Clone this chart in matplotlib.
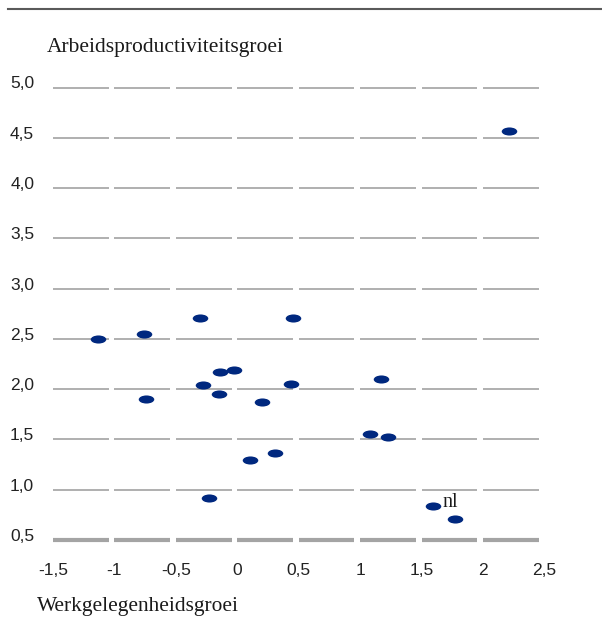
import numpy as np
import matplotlib
matplotlib.use("Agg")
from matplotlib import pyplot as plt
from matplotlib.path import Path
import matplotlib.transforms as mtransforms

# data
werkgelegenheid = [2.21, -1.13, -0.76, -0.30, 0.45, -0.74, -0.28, -0.14, -0.03, -0.15,
                   0.20, 0.44, 1.17, 1.08, 1.23, 0.10, 0.31, -0.23, 1.59, 1.77]
productiviteit = [4.57, 2.50, 2.55, 2.71, 2.71, 1.90, 2.04, 2.17, 2.19, 1.95,
                  1.87, 2.05, 2.10, 1.55, 1.52, 1.30, 1.37, 0.92, 0.84, 0.71]
labels = [''] * 18 + ['nl', '']

x_ticks = [-1.5, -1, -0.5, 0, 0.5, 1, 1.5, 2, 2.5]
x_ticklabels = ['-1,5', '-1', '-0,5', '0', '0,5', '1', '1,5', '2', '2,5']
y_ticks = [0.5, 1.0, 1.5, 2.0, 2.5, 3.0, 3.5, 4.0, 4.5, 5.0]
y_ticklabels = ['0,5', '1,0', '1,5', '2,0', '2,5', '3,0', '3,5', '4,0', '4,5', '5,0']

W, H = 602, 627
fig = plt.figure(figsize=(W / 100, H / 100), dpi=100)
ax = fig.add_axes([53 / W, (H - 540) / H, (544.4 - 53) / W, (540 - 87.5) / H])
ax.set_xlim(-1.5, 2.5)
ax.set_ylim(0.5, 5.0)
for s in ax.spines.values():
    s.set_visible(False)

# segmented grid, small gap before every x tick
gap = 0.046
for y in y_ticks:
    bottom = (y == y_ticks[0])
    for x0, x1 in zip(x_ticks[:-1], x_ticks[1:]):
        ax.hlines(y, x0, x1 - gap, colors='#a4a4a4' if bottom else '#a9a9a9',
                  linewidth=3 if bottom else 1.3, zorder=1, clip_on=False)

# flat ellipse marker
circ = Path.unit_circle()
ellipse = Path(circ.vertices * np.array([1.0, 0.52]), circ.codes)
ax.plot(werkgelegenheid, productiviteit, linestyle='none', marker=ellipse,
        markersize=11.2, color='#00287f', markeredgewidth=0, zorder=3, clip_on=False)

for x, y, lab in zip(werkgelegenheid, productiviteit, labels):
    if lab:
        ax.annotate(lab, (x, y), xytext=(7.0, -1.2), textcoords='offset points',
                    ha='left', va='baseline', fontsize=14.5, family='Liberation Serif',
                    color='#1a1a1a')

ax.set_xticks(x_ticks)
ax.set_xticklabels(x_ticklabels, family='Liberation Sans', fontsize=12.5, color='#222222')
ax.set_yticks(y_ticks)
ax.set_yticklabels(y_ticklabels, family='Liberation Sans', fontsize=12.5, color='#222222')
ax.tick_params(axis='both', length=0)
ax.tick_params(axis='x', pad=16.5)
ax.tick_params(axis='y', pad=13.5)
shift = mtransforms.ScaledTranslation(0, 5 / 100, fig.dpi_scale_trans)
for t in ax.get_yticklabels():
    t.set_transform(t.get_transform() + shift)

fig.text(47 / W, 1 - 52 / H, 'Arbeidsproductiviteitsgroei', family='Liberation Serif',
         fontsize=15.5, color='#1a1a1a', ha='left', va='baseline')
fig.text(37 / W, 1 - 611 / H, 'Werkgelegenheidsgroei', family='Liberation Serif',
         fontsize=15.4, color='#1a1a1a', ha='left', va='baseline')

# rule across the top of the figure
fig.add_artist(plt.Line2D([8 / W, 1], [1 - 9 / H, 1 - 9 / H], transform=fig.transFigure,
                          color='#5a5a5a', linewidth=1.5))

fig.savefig('out.png', dpi=100)
